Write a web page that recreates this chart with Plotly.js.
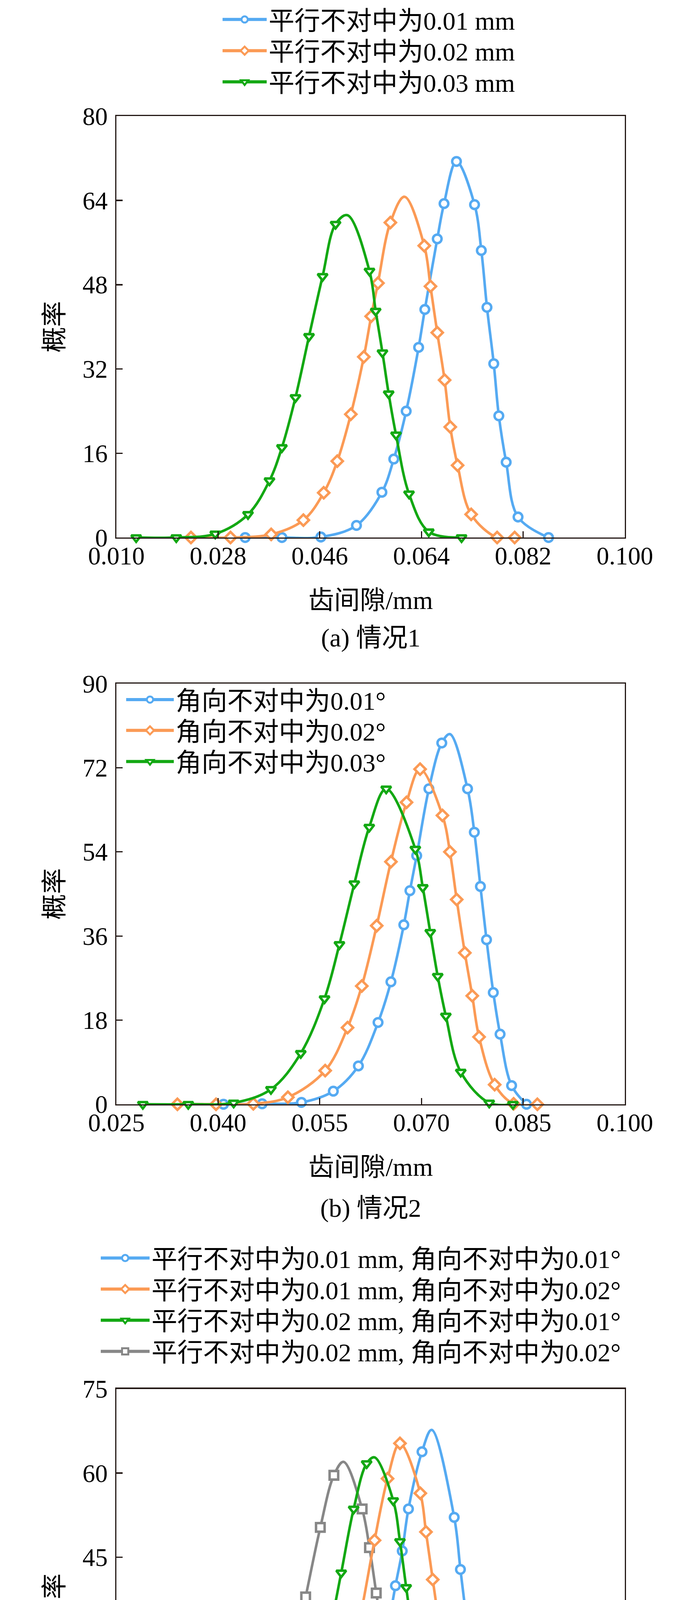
<!DOCTYPE html>
<html>
<head>
<meta charset="utf-8">
<script src="https://cdn.plot.ly/plotly-3.0.1.min.js"></script>
<style>
  html, body { margin: 0; padding: 0; background: #fff; }
  #chart { width: 1772px; height: 4942px; }
</style>
</head>
<body>
<div id="chart"></div>
<script>
// ---------------- data ----------------
// (a) 情况1 : 平行不对中
const aBlueX = [0.0328,0.0393,0.0462,0.0525,0.0570,0.0591,0.0613,0.0635,0.0646,0.0668,0.0680,0.0702,0.0734,0.0746,0.0756,0.0768,0.0777,0.0790,0.0811,0.0865];
const aBlueY = [0,0,0.1,2.3,8.6,14.9,24.0,36.1,43.3,56.7,63.4,71.4,63.2,54.5,43.7,33.0,23.1,14.3,3.9,0];
const aBluePeakX = [], aBluePeakY = [];
const aOrangeX = [0.0232,0.0302,0.0374,0.0431,0.0467,0.0491,0.0515,0.0538,0.0551,0.0563,0.0585,0.0645,0.0656,0.0668,0.0681,0.0691,0.0704,0.0728,0.0774,0.0805];
const aOrangeY = [0,0,0.6,3.3,8.5,14.5,23.4,34.3,42.0,48.3,59.8,55.4,47.7,38.9,29.9,21.0,13.7,4.4,0,0];
const aOrangePeakX = [0.0610], aOrangePeakY = [64.7];
const aGreenX = [0.0135,0.0206,0.0275,0.0333,0.0371,0.0393,0.0417,0.0441,0.0465,0.0488,0.0548,0.0559,0.0571,0.0582,0.0595,0.0618,0.0653,0.0711];
const aGreenY = [0,0,0.7,4.4,10.8,17.1,26.6,38.2,49.6,59.5,50.6,43.0,35.1,27.3,19.5,8.3,1.1,0];
const aGreenPeakX = [0.0509], aGreenPeakY = [61.2];
const aNames = ['平行不对中为0.01 mm', '平行不对中为0.02 mm', '平行不对中为0.03 mm'];
const aTicksX = [0.010, 0.028, 0.046, 0.064, 0.082, 0.100];
const aTicksY = [0, 16, 32, 48, 64, 80];

// (b) 情况2 : 角向不对中
const bBlueX = [0.0408,0.0465,0.0523,0.0570,0.0607,0.0636,0.0655,0.0674,0.0683,0.0693,0.0711,0.0730,0.0768,0.0778,0.0787,0.0796,0.0806,0.0816,0.0833,0.0855];
const bBlueY = [0,0.1,0.4,2.8,8.2,17.5,26.2,38.4,45.7,53.2,67.5,77.3,67.5,58.2,46.6,35.2,23.9,15.0,4.0,0];
const bBluePeakX = [0.0742], bBluePeakY = [79.2];
const bOrangeX = [0.0340,0.0397,0.0452,0.0503,0.0558,0.0591,0.0612,0.0634,0.0655,0.0678,0.0698,0.0731,0.0742,0.0752,0.0764,0.0775,0.0785,0.0808,0.0836,0.0871];
const bOrangeY = [0,0,0.1,1.5,7.2,16.4,25.3,38.2,51.9,64.6,71.7,61.8,54.0,43.8,32.4,23.2,14.4,4.2,0.1,0];
const bOrangePeakX = [], bOrangePeakY = [];
const bGreenX = [0.0289,0.0356,0.0423,0.0478,0.0522,0.0557,0.0579,0.0601,0.0623,0.0648,0.0691,0.0702,0.0713,0.0724,0.0736,0.0758,0.0800,0.0835];
const bGreenY = [0,0,0.3,3.2,10.9,22.6,34.2,47.2,59.3,67.5,54.6,46.4,36.8,27.4,18.9,6.9,0.3,0];
const bGreenPeakX = [], bGreenPeakY = [];
const bNames = ['角向不对中为0.01°', '角向不对中为0.02°', '角向不对中为0.03°'];
const bTicksX = [0.025, 0.040, 0.055, 0.070, 0.085, 0.100];
const bTicksY = [0, 18, 36, 54, 72, 90];

// (c) 情况3 : 平行 + 角向不对中
const cBlueX = [0.0392,0.0444,0.0501,0.0536,0.0559,0.0582,0.0594,0.0606,0.0617,0.0641,0.0698,0.0709,0.0721,0.0733,0.0745,0.0756,0.0779,0.0837];
const cBlueY = [0,0.6,5.4,12.9,21.9,33.2,39.9,46.1,53.6,63.8,52.1,42.8,32.9,23.6,15.8,9.2,2.2,0];
const cBluePeakX = [0.0658], cBluePeakY = [67.7];
const cOrangeX = [0.0234,0.0302,0.0374,0.0430,0.0466,0.0488,0.0510,0.0534,0.0557,0.0580,0.0602,0.0638,0.0648,0.0660,0.0672,0.0684,0.0694,0.0716,0.0751,0.0798];
const cOrangeY = [0,0,0.7,3.4,8.8,14.9,23.9,35.5,48.0,59.0,65.3,56.4,49.5,41.0,32.5,23.6,15.9,5.8,0.5,0];
const cOrangePeakX = [], cOrangePeakY = [];
const cGreenX = [0.0187,0.0337,0.0394,0.0429,0.0452,0.0474,0.0498,0.0520,0.0543,0.0590,0.0602,0.0613,0.0625,0.0637,0.0660,0.0683,0.0751];
const cGreenY = [0,0.9,5.4,12.8,20.3,30.0,42.2,53.6,61.7,55.1,47.8,39.6,31.0,23.4,10.4,3.1,0];
const cGreenPeakX = [0.0557], cGreenPeakY = [62.8];
const cGreyX = [0.0136,0.0211,0.0287,0.0349,0.0387,0.0410,0.0435,0.0461,0.0485,0.0535,0.0548,0.0560,0.0573,0.0584,0.0598,0.0621,0.0671,0.0710];
const cGreyY = [0,0,1.2,6.8,16.4,26.0,37.9,50.3,59.6,53.6,46.7,38.6,29.9,21.9,14.6,5.3,0.1,0];
const cGreyPeakX = [0.0502], cGreyPeakY = [62.0];
const cNames = ['平行不对中为0.01 mm, 角向不对中为0.01°', '平行不对中为0.01 mm, 角向不对中为0.02°',
                '平行不对中为0.02 mm, 角向不对中为0.01°', '平行不对中为0.02 mm, 角向不对中为0.02°'];
const cTicksX = [0.010, 0.028, 0.046, 0.064, 0.082, 0.100];
const cTicksY = [0, 15, 30, 45, 60, 75];

const captions = ['(a) 情况1', '(b) 情况2', '(c) 情况3'];
const xTitle = '齿间隙/mm';
const yTitle = '概率';

// ---------------- styles ----------------
const BLUE = '#55aaf2', ORANGE = '#fb9a55', GREEN = '#13a813', GREY = '#878787';
const AXIS = '#231815';
const FONT = '"Liberation Serif", "Times New Roman", "Noto Sans CJK SC", serif';

let traces = [];

function addSeries(xs, ys, px, py, color, symbol, xa, ya, legendId, name) {
  // smooth curve goes through the marker points plus the extra peak points
  let pts = xs.map((x, i) => [x, ys[i]]).concat(px.map((x, i) => [x, py[i]]));
  pts.sort((p, q) => p[0] - q[0]);
  traces.push({
    type: 'scatter', mode: 'lines', xaxis: xa, yaxis: ya,
    x: pts.map(p => p[0]), y: pts.map(p => p[1]),
    line: { color: color, width: 6.6, shape: 'spline', smoothing: 1 },
    showlegend: false, hoverinfo: 'skip',
  });
  traces.push({
    type: 'scatter', mode: 'markers', xaxis: xa, yaxis: ya, x: xs, y: ys,
    marker: { symbol: symbol, size: 22, color: '#fff', line: { color: color, width: 6.3 } },
    cliponaxis: false, showlegend: false, hoverinfo: 'skip',
  });
  // legend sample only
  traces.push({
    type: 'scatter', mode: 'lines+markers', xaxis: xa, yaxis: ya, x: [null], y: [null],
    name: name, legend: legendId,
    line: { color: color, width: 8 },
    marker: { symbol: symbol, size: 16, color: '#fff', line: { color: color, width: 5 } },
  });
}

addSeries(aBlueX, aBlueY, aBluePeakX, aBluePeakY, BLUE, 'circle', 'x', 'y', 'legend', aNames[0]);
addSeries(aOrangeX, aOrangeY, aOrangePeakX, aOrangePeakY, ORANGE, 'diamond', 'x', 'y', 'legend2', aNames[1]);
addSeries(aGreenX, aGreenY, aGreenPeakX, aGreenPeakY, GREEN, 'triangle-down', 'x', 'y', 'legend3', aNames[2]);

addSeries(bBlueX, bBlueY, bBluePeakX, bBluePeakY, BLUE, 'circle', 'x2', 'y2', 'legend4', bNames[0]);
addSeries(bOrangeX, bOrangeY, bOrangePeakX, bOrangePeakY, ORANGE, 'diamond', 'x2', 'y2', 'legend5', bNames[1]);
addSeries(bGreenX, bGreenY, bGreenPeakX, bGreenPeakY, GREEN, 'triangle-down', 'x2', 'y2', 'legend6', bNames[2]);

addSeries(cGreyX, cGreyY, cGreyPeakX, cGreyPeakY, GREY, 'square', 'x3', 'y3', 'legend10', cNames[3]);
addSeries(cBlueX, cBlueY, cBluePeakX, cBluePeakY, BLUE, 'circle', 'x3', 'y3', 'legend7', cNames[0]);
addSeries(cOrangeX, cOrangeY, cOrangePeakX, cOrangePeakY, ORANGE, 'diamond', 'x3', 'y3', 'legend8', cNames[1]);
addSeries(cGreenX, cGreenY, cGreenPeakX, cGreenPeakY, GREEN, 'triangle-down', 'x3', 'y3', 'legend9', cNames[2]);

// ---------------- layout ----------------
const X_DOMAIN = [0.1682, 0.9029];

function xAxis(ticks, anchor) {
  return {
    domain: X_DOMAIN, anchor: anchor,
    range: [ticks[0], ticks[ticks.length - 1]],
    tickmode: 'array', tickvals: ticks, tickformat: '.3f',
    ticks: 'inside', ticklen: 16, tickwidth: 3.3, tickcolor: AXIS,
    ticklabelstandoff: -12,
    showline: true, mirror: true, linecolor: AXIS, linewidth: 3.3,
    showgrid: false, zeroline: false,
    tickfont: { family: FONT, size: 64.5, color: '#000' },
    title: { text: xTitle, standoff: 56, font: { family: FONT, size: 66, color: '#000' } },
  };
}

function yAxis(ticks, anchor, domain) {
  return {
    domain: domain, anchor: anchor,
    range: [ticks[0], ticks[ticks.length - 1]],
    tickmode: 'array', tickvals: ticks,
    ticks: 'inside', ticklen: 16, tickwidth: 3.3, tickcolor: AXIS,
    ticklabelstandoff: 6,
    showline: true, mirror: true, linecolor: AXIS, linewidth: 3.3,
    showgrid: false, zeroline: false,
    tickfont: { family: FONT, size: 64.5, color: '#000' },
    title: { text: yTitle, standoff: 28, font: { family: FONT, size: 66, color: '#000' } },
  };
}

function legendAt(x, y, w) {
  return {
    x: x, y: y, xanchor: 'left', yanchor: 'middle',
    bgcolor: 'rgba(0,0,0,0)', borderwidth: 0, itemwidth: w,
    font: { family: FONT, size: 66, color: '#000' },
  };
}

function caption(text, y) {
  return { text: text, xref: 'paper', yref: 'paper', x: 0.5356, y: y, showarrow: false,
           xanchor: 'center', yanchor: 'middle', font: { family: FONT, size: 66, color: '#000' } };
}

let layout = {
  width: 1772, height: 4942,
  margin: { l: 0, r: 0, t: 0, b: 0 },
  paper_bgcolor: '#fff', plot_bgcolor: '#fff',
  font: { family: FONT, color: '#000' },
  xaxis: xAxis(aTicksX, 'y'),
  yaxis: yAxis(aTicksY, 'x', [0.7236, 0.9425]),
  xaxis2: xAxis(bTicksX, 'y2'),
  yaxis2: yAxis(bTicksY, 'x2', [0.4292, 0.6477]),
  xaxis3: xAxis(cTicksX, 'y3'),
  yaxis3: yAxis(cTicksY, 'x3', [0.0629, 0.2813]),
  legend: legendAt(0.3188, 0.9927, 113),
  legend2: legendAt(0.3188, 0.9765, 113),
  legend3: legendAt(0.3188, 0.9603, 113),
  legend4: legendAt(0.1795, 0.6394, 122),
  legend5: legendAt(0.1795, 0.6234, 122),
  legend6: legendAt(0.1795, 0.6072, 122),
  legend7: legendAt(0.1428, 0.3493, 125),
  legend8: legendAt(0.1428, 0.3332, 125),
  legend9: legendAt(0.1428, 0.3170, 125),
  legend10: legendAt(0.1428, 0.3008, 125),
  annotations: [
    caption(captions[0], 0.6714),
    caption(captions[1], 0.3752),
    caption(captions[2], 0.0083),
  ],
};

Plotly.newPlot('chart', traces, layout, { staticPlot: true, displayModeBar: false });
</script>
</body>
</html>
